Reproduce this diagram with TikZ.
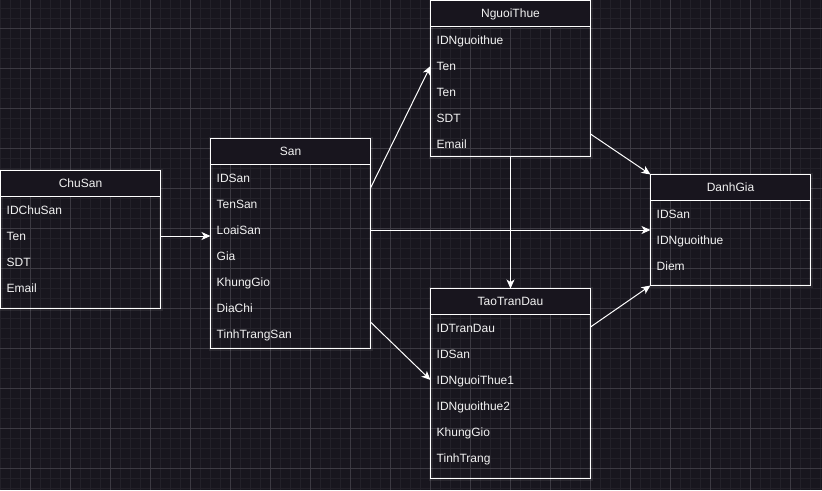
\documentclass[tikz,border=0pt]{standalone}
\usepackage{fontspec}
\setmainfont{Liberation Sans}
\usetikzlibrary{arrows.meta,calc}
\definecolor{bg}{RGB}{24,22,30}
\definecolor{minorgrid}{RGB}{35,33,41}
\definecolor{majorgrid}{RGB}{60,58,66}
\definecolor{hdr}{RGB}{24,21,30}
\definecolor{txt}{RGB}{242,242,242}
\begin{document}
\begin{tikzpicture}[x=1pt,y=-1pt,
  entity/.style={draw=white, line width=1pt, inner sep=0pt, outer sep=0pt, minimum width=160pt, anchor=north west},
  hdrbox/.style={draw=white, fill=hdr, line width=1pt, minimum width=160pt, minimum height=26pt, anchor=north west, inner sep=0pt, outer sep=0pt, font=\fontsize{12}{14}\selectfont, text=txt, text height=8.6pt, text depth=0pt},
  field/.style={anchor=west, inner sep=0pt, font=\fontsize{12}{14}\selectfont, text=txt, text height=8.6pt, text depth=0pt},
  link/.style={draw=white, line width=1pt, -{Stealth[length=9pt,width=8pt,inset=2.5pt]}},
  glow/.style={draw=white, line width=4pt, opacity=0.07}]
\useasboundingbox (0,0) rectangle (822,490);
\fill[bg] (0,0) rectangle (822,490);
\draw[minorgrid, line width=0.8pt] foreach \x in {0,10,...,820} {(\x,0) -- (\x,490)};
\draw[minorgrid, line width=0.8pt] foreach \y in {8,18,...,488} {(0,\y) -- (822,\y)};
\draw[majorgrid, line width=0.8pt] foreach \x in {30,70,...,790} {(\x,0) -- (\x,490)};
\draw[majorgrid, line width=0.8pt] foreach \y in {28,68,...,468} {(0,\y) -- (822,\y)};

% glow
\draw[glow] (0.5,170.5) rectangle (160.5,308.5);
\draw[glow] (210.5,138.5) rectangle (370.5,348.5);
\draw[glow] (430.5,0.5) rectangle (590.5,156.5);
\draw[glow] (650.5,174.5) rectangle (810.5,285.5);
\draw[glow] (430.5,288.5) rectangle (590.5,478.5);

% ChuSan
\node[entity, minimum height=138pt] (chusan) at (0.5,170.5) {};
\node[hdrbox] (chusanH) at (0.5,170.5) {ChuSan};
\node[field] (chusan1) at (6.5,210.5) {IDChuSan};
\node[field] (chusan2) at (6.5,236.5) {Ten};
\node[field] (chusan3) at (6.5,262.5) {SDT};
\node[field] (chusan4) at (6.5,288.5) {Email};

% San
\node[entity, minimum height=210pt] (san) at (210.5,138.5) {};
\node[hdrbox] (sanH) at (210.5,138.5) {San};
\node[field] (san1) at (216.5,178.5) {IDSan};
\node[field] (san2) at (216.5,204.5) {TenSan};
\node[field] (san3) at (216.5,230.5) {LoaiSan};
\node[field] (san4) at (216.5,256.5) {Gia};
\node[field] (san5) at (216.5,282.5) {KhungGio};
\node[field] (san6) at (216.5,308.5) {DiaChi};
\node[field] (san7) at (216.5,334.5) {TinhTrangSan};

% NguoiThue
\node[entity, minimum height=156pt] (nguoithue) at (430.5,0.5) {};
\node[hdrbox] (nguoithueH) at (430.5,0.5) {NguoiThue};
\node[field] (nt1) at (436.5,40.5) {IDNguoithue};
\node[field] (nt2) at (436.5,66.5) {Ten};
\node[field] (nt3) at (436.5,92.5) {Ten};
\node[field] (nt4) at (436.5,118.5) {SDT};
\node[field] (nt5) at (436.5,144.5) {Email};

% DanhGia
\node[entity, minimum height=111pt] (danhgia) at (650.5,174.5) {};
\node[hdrbox] (danhgiaH) at (650.5,174.5) {DanhGia};
\node[field] (dg1) at (656.5,214.5) {IDSan};
\node[field] (dg2) at (656.5,240.5) {IDNguoithue};
\node[field] (dg3) at (656.5,266.5) {Diem};

% TaoTranDau
\node[entity, minimum height=190pt] (tao) at (430.5,288.5) {};
\node[hdrbox] (taoH) at (430.5,288.5) {TaoTranDau};
\node[field] (td1) at (436.5,328.5) {IDTranDau};
\node[field] (td2) at (436.5,354.5) {IDSan};
\node[field] (td3) at (436.5,380.5) {IDNguoiThue1};
\node[field] (td4) at (436.5,406.5) {IDNguoithue2};
\node[field] (td5) at (436.5,432.5) {KhungGio};
\node[field] (td6) at (436.5,458.5) {TinhTrang};

% connectors
\draw[link] ($(chusan.north east)+(0,65.5)$) -- ($(san.north west)+(0,97.5)$);
\draw[link] ($(san.north east)+(0,49.5)$) -- ($(nguoithue.north west)+(0,65.5)$);
\draw[link] ($(san.north east)+(0,91.5)$) -- ($(danhgia.north west)+(0,55.5)$);
\draw[link] ($(san.north east)+(0,183.5)$) -- ($(tao.north west)+(0,91.5)$);
\draw[link] ($(nguoithue.north east)+(0,133.5)$) -- (danhgia.north west);
\draw[link] (nguoithue.south) -- (tao.north);
\draw[link] ($(tao.north east)+(0,38.5)$) -- (danhgia.south west);
\end{tikzpicture}
\end{document}
